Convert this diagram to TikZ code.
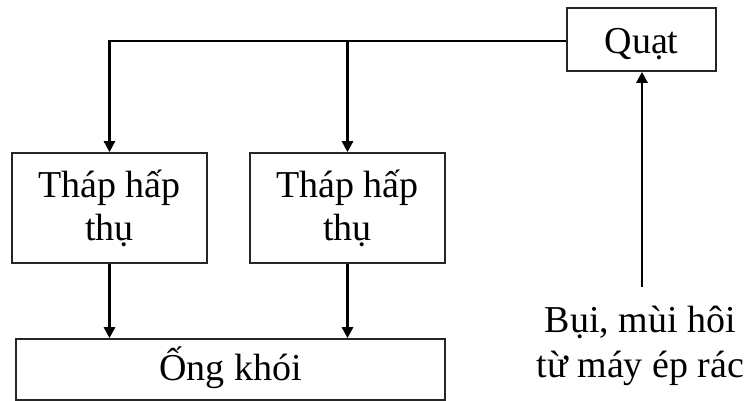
\documentclass[tikz,border=0pt]{standalone}
\usepackage{fontspec}
\setmainfont{Liberation Serif}
\usetikzlibrary{arrows.meta}
\begin{document}
\begin{tikzpicture}[x=1pt,y=-1pt,
  txt/.style={font=\fontsize{38}{43}\selectfont},
  box/.style={txt, draw=black!85, line width=1.7pt, inner sep=0pt, align=center},
  conn/.style={line width=2.7pt, draw=black},
  arr/.style={conn, -{Triangle[length=11pt,width=11pt]}}]
\useasboundingbox (0,0) rectangle (748,400);
\node[anchor=base west, font=\bfseries\fontsize{37}{43}\selectfont, inner sep=0pt] (frag) at (85,-7.5) {p};
\node[box, minimum width=149, minimum height=63, text height=31pt, text depth=4pt] (quat) at (641.5,39.5) {Quạt};
\node[box, minimum width=195, minimum height=110] (t1) at (109.5,208) {Tháp hấp\\thụ};
\node[box, minimum width=195, minimum height=110] (t2) at (347.5,208) {Tháp hấp\\thụ};
\node[box, minimum width=429, minimum height=61, text height=29.6pt, text depth=8.5pt] (ong) at (230.5,369.5) {Ống khói};
\node[txt, align=center, inner sep=0pt, anchor=north, font=\fontsize{38}{45}\selectfont] (src) at (640.5,306) {Bụi, mùi hôi\\từ máy ép rác};
\coordinate (top) at (109.5,41);
\coordinate (srctop) at (642,287);
\draw[arr] (quat.west |- top) -- (top) -- (t1.north);
\draw[arr] (t2.north |- top) -- (t2.north);
\draw[arr] (t1.south) -- (t1.south |- ong.north);
\draw[arr] (t2.south) -- (t2.south |- ong.north);
\draw[arr] (srctop) -- (srctop |- quat.south);
\end{tikzpicture}
\end{document}
